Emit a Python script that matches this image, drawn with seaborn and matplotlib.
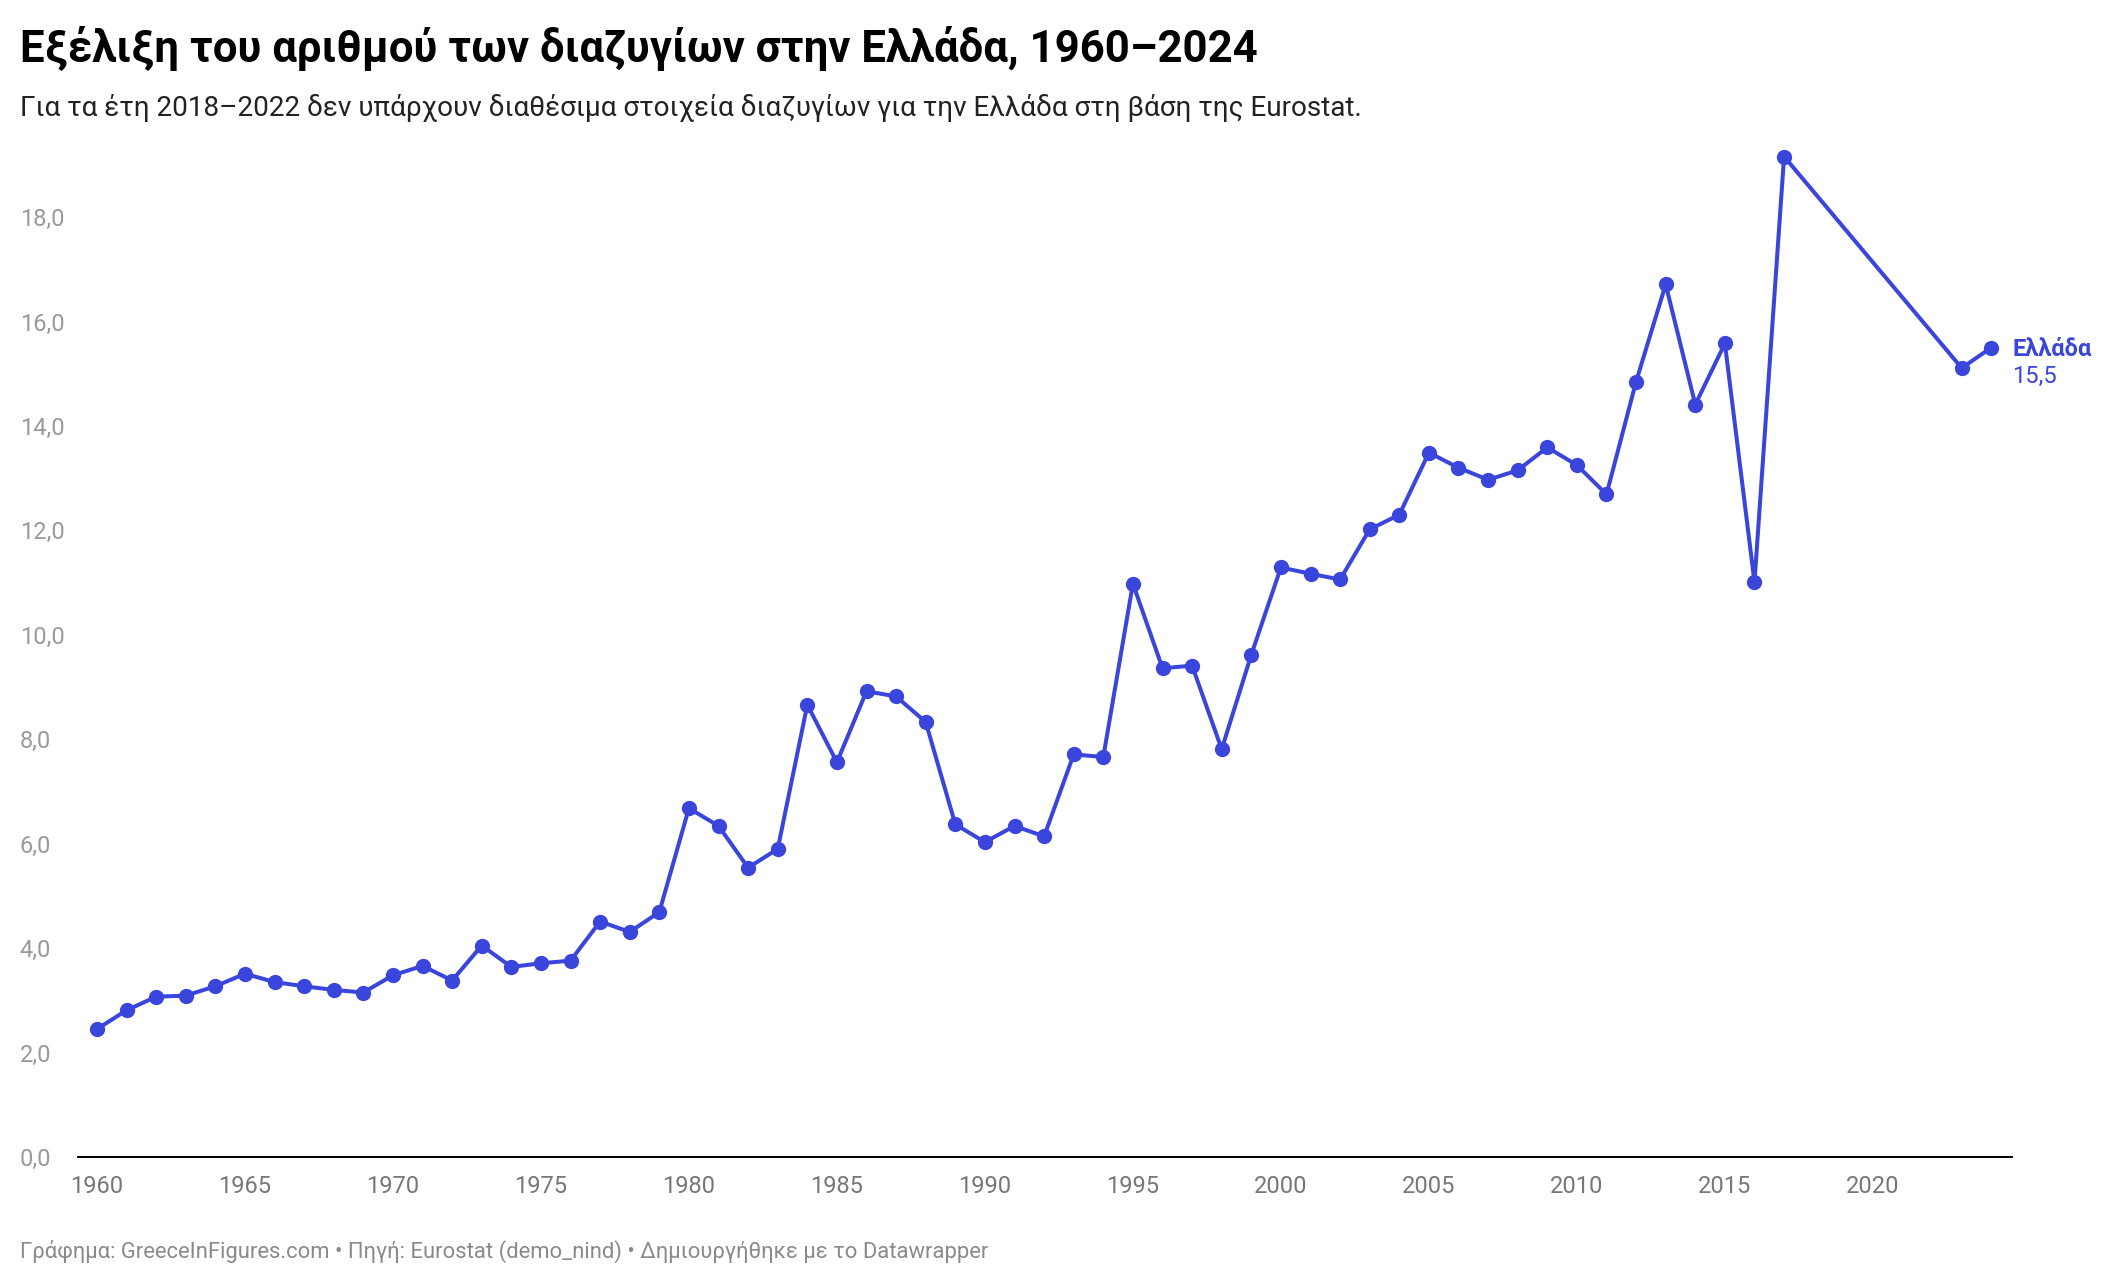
import matplotlib
matplotlib.use("Agg")
import matplotlib.pyplot as plt
import seaborn as sns
import pandas as pd

# ---- data ----
years = list(range(1960, 2018)) + [2023, 2024]
divorces = [
    2.45, 2.81, 3.07, 3.09, 3.27, 3.51, 3.35, 3.27, 3.20, 3.15,   # 1960-69
    3.48, 3.66, 3.38, 4.05, 3.64, 3.71, 3.76, 4.51, 4.31, 4.69,   # 1970-79
    6.68, 6.34, 5.54, 5.90, 8.66, 7.56, 8.92, 8.82, 8.33, 6.37,   # 1980-89
    6.03, 6.34, 6.14, 7.71, 7.66, 10.98, 9.36, 9.41, 7.81, 9.62,  # 1990-99
    11.29, 11.17, 11.06, 12.02, 12.30, 13.49, 13.20, 12.97, 13.15, 13.59,  # 2000-09
    13.25, 12.69, 14.85, 16.71, 14.41, 15.58, 11.01, 19.16,       # 2010-17
    15.11, 15.50,                                                 # 2023-24
]
x_ticks = list(range(1960, 2021, 5))
y_ticks = [0, 2, 4, 6, 8, 10, 12, 14, 16, 18]
y_tick_labels = [f"{v:.1f}".replace(".", ",") for v in y_ticks]

title = "Εξέλιξη του αριθμού των διαζυγίων στην Ελλάδα, 1960–2024"
subtitle = "Για τα έτη 2018–2022 δεν υπάρχουν διαθέσιμα στοιχεία διαζυγίων για την Ελλάδα στη βάση της Eurostat."
footer = "Γράφημα: GreeceInFigures.com • Πηγή: Eurostat (demo_nind) • Δημιουργήθηκε με το Datawrapper"
series_name = "Ελλάδα"

df = pd.DataFrame({"year": years, "value": divorces})

# ---- style ----
sns.set_style("white")
plt.rcParams["font.family"] = ["Roboto", "DejaVu Sans"]

LINE = "#3a45dc"
GRAY = "#8a8a8a"

fig = plt.figure(figsize=(21.12, 12.84), dpi=100)
ax = fig.add_axes([78 / 2112, 127 / 1284, (2012 - 78) / 2112, 0.793])

sns.lineplot(data=df, x="year", y="value", ax=ax, color=LINE, linewidth=2.9,
             marker="o", markersize=11, markeredgewidth=0, clip_on=False)

ax.set_xlim(1959.36, 2024.7)
ax.set_ylim(0, 19.5)

ax.set_xticks(x_ticks)
ax.set_xticklabels([str(t) for t in x_ticks])
ax.set_yticks(y_ticks)
ax.set_yticklabels(y_tick_labels)
ax.tick_params(axis="x", length=0, pad=13, labelsize=17, labelcolor="#777777")
ax.tick_params(axis="y", length=0, pad=42, labelsize=17, labelcolor="#9a9a9a")
for lab in ax.get_yticklabels():
    lab.set_horizontalalignment("left")

for s in ["top", "right", "left"]:
    ax.spines[s].set_visible(False)
ax.spines["bottom"].set_color("black")
ax.spines["bottom"].set_linewidth(1.4)
ax.set_xlabel("")
ax.set_ylabel("")
ax.grid(False)

# end label
last_x, last_y = years[-1], divorces[-1]
ax.annotate(series_name, xy=(last_x, last_y), xytext=(15, -1), textcoords="offset points",
            ha="left", va="center", fontsize=17, fontweight="bold", color=LINE,
            annotation_clip=False)
ax.annotate(f"{last_y:.1f}".replace(".", ","), xy=(last_x, last_y), xytext=(15, -21),
            textcoords="offset points", ha="left", va="center", fontsize=17,
            color=LINE, annotation_clip=False)

# titles & footer
fig.text(20 / 2112, 0.9517, title, fontsize=31.5, fontweight="bold", color="black",
         ha="left", va="baseline")
fig.text(20 / 2112, 0.9097, subtitle, fontsize=20.1, color="#222222",
         ha="left", va="baseline")
fig.text(20 / 2112, 0.0202, footer, fontsize=15.8, color=GRAY,
         ha="left", va="baseline")

fig.savefig("out.png", dpi=100)
